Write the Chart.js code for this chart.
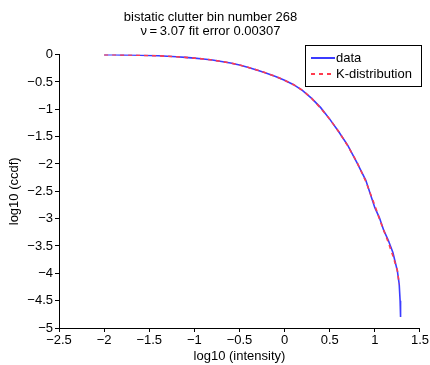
<!DOCTYPE html>
<html>
<head>
<meta charset="utf-8">
<script src="https://cdn.jsdelivr.net/npm/chart.js@4"></script>
<style>
  body { margin: 0; background: #fff; }
  #wrap { width: 430px; height: 365px; }
</style>
</head>
<body>
<div id="wrap"><canvas id="myChart" width="430" height="365"></canvas></div>
<script>
'use strict';
// log10 intensity
const intensity = [-2.0, -1.9, -1.8, -1.7, -1.6, -1.5, -1.4, -1.3, -1.2, -1.1, -1.0, -0.9, -0.8, -0.7, -0.6, -0.5, -0.4, -0.3, -0.2, -0.1, 0.0, 0.1, 0.2, 0.3, 0.4, 0.5, 0.6, 0.7, 0.8, 0.9, 1.0, 1.05, 1.1, 1.15, 1.2, 1.25, 1.27, 1.28, 1.285];
// measured ccdf (log10)
const dataCcdf = [0.0, -0.003, -0.005, -0.008, -0.012, -0.016, -0.022, -0.03, -0.04, -0.05, -0.065, -0.08, -0.1, -0.125, -0.155, -0.19, -0.235, -0.285, -0.34, -0.4, -0.47, -0.55, -0.66, -0.8, -0.97, -1.18, -1.41, -1.66, -1.97, -2.3, -2.8, -2.98, -3.22, -3.4, -3.62, -3.96, -4.2, -4.5, -4.8];
// fitted K-distribution (log10)
const kCcdf = [0.0, -0.003, -0.005, -0.008, -0.012, -0.016, -0.022, -0.03, -0.04, -0.05, -0.065, -0.08, -0.1, -0.125, -0.155, -0.19, -0.235, -0.285, -0.34, -0.4, -0.47, -0.55, -0.655, -0.8, -0.98, -1.18, -1.41, -1.67, -1.96, -2.32, -2.76, -3.0, -3.22, -3.44, -3.68, -3.95, -4.2];

const xTicks = [-2.5, -2, -1.5, -1, -0.5, 0, 0.5, 1, 1.5];
const yTicks = [0, -0.5, -1, -1.5, -2, -2.5, -3, -3.5, -4, -4.5, -5];
const titleLines = ['bistatic clutter bin number 268', '\u03bd\u2009=\u20093.07 fit error 0.00307'];

function pts(xs, ys) {
    let out = [];
    for (let i = 0; i < ys.length; i++) {
        out.push({ x: xs[i], y: ys[i] });
    }
    return out;
}

function fmt(v) {
    return String(v).replace('-', '\u2212');
}

const FONT = '"Liberation Sans", Arial, sans-serif';

// legend box inside the plot, top right
const boxLegend = {
    id: 'boxLegend',
    afterDraw(chart) {
        const ctx = chart.ctx;
        const x0 = 305, y0 = 45, w = 116, h = 41;
        ctx.save();
        ctx.fillStyle = '#fff';
        ctx.fillRect(x0, y0, w, h);
        ctx.strokeStyle = '#000';
        ctx.lineWidth = 1;
        ctx.strokeRect(x0 + 0.5, y0 + 0.5, w, h);
        ctx.font = '13px ' + FONT;
        ctx.textBaseline = 'middle';
        ctx.fillStyle = '#000';
        const items = chart.data.datasets;
        for (let i = 0; i < items.length; i++) {
            const yy = y0 + 13 + i * 16;
            ctx.beginPath();
            ctx.strokeStyle = items[i].borderColor;
            ctx.lineWidth = 2;
            ctx.setLineDash(items[i].borderDash || []);
            ctx.moveTo(x0 + 6, yy);
            ctx.lineTo(x0 + 30, yy);
            ctx.stroke();
            ctx.setLineDash([]);
            ctx.fillText(items[i].label, x0 + 31, yy);
        }
        ctx.restore();
    }
};

const chartObject = {
    type: 'scatter',
    data: {
        datasets: [{
            label: 'data',
            data: pts(intensity, dataCcdf),
            showLine: true,
            borderColor: '#3b3bff',
            borderWidth: 1.6,
            pointRadius: 0,
            order: 1
        }, {
            label: 'K-distribution',
            data: pts(intensity, kCcdf),
            showLine: true,
            borderColor: '#ff3b4e',
            borderWidth: 1.6,
            borderDash: [4, 4],
            pointRadius: 0,
            order: 0
        }]
    },
    options: {
        responsive: false,
        animation: false,
        layout: { padding: { left: 0, right: 9, top: 0, bottom: 0 } },
        plugins: {
            legend: { display: false },
            tooltip: { enabled: false },
            title: {
                display: true,
                text: titleLines,
                color: '#000',
                font: { family: FONT, size: 13, weight: 'normal', lineHeight: 1.1 },
                padding: { top: 10, bottom: 16 }
            }
        },
        scales: {
            x: {
                type: 'linear',
                min: -2.5,
                max: 1.5,
                afterBuildTicks(axis) { axis.ticks = xTicks.map(v => ({ value: v })); },
                afterFit(axis) { axis.height = 37; },
                ticks: { callback: fmt, color: '#000', font: { family: FONT, size: 13 }, padding: 1, maxRotation: 0 },
                grid: { drawOnChartArea: false, drawTicks: true, tickLength: 4, color: '#000' },
                border: { display: true, color: '#000', width: 1 },
                title: { display: true, text: 'log10 (intensity)', color: '#000', font: { family: FONT, size: 13 }, padding: { top: 1, bottom: 1 } }
            },
            y: {
                type: 'linear',
                min: -5,
                max: 0,
                afterBuildTicks(axis) { axis.ticks = yTicks.map(v => ({ value: v })); },
                afterFit(axis) { axis.width = 59; },
                ticks: { callback: fmt, color: '#000', font: { family: FONT, size: 13 }, padding: 2 },
                grid: { drawOnChartArea: false, drawTicks: true, tickLength: 4, color: '#000' },
                border: { display: true, color: '#000', width: 1 },
                title: { display: true, text: 'log10 (ccdf)', color: '#000', font: { family: FONT, size: 13 }, padding: { top: 7, bottom: 4 } }
            }
        }
    },
    plugins: [boxLegend]
};

const chart = new Chart(document.getElementById('myChart').getContext('2d'), chartObject);
</script>
</body>
</html>
